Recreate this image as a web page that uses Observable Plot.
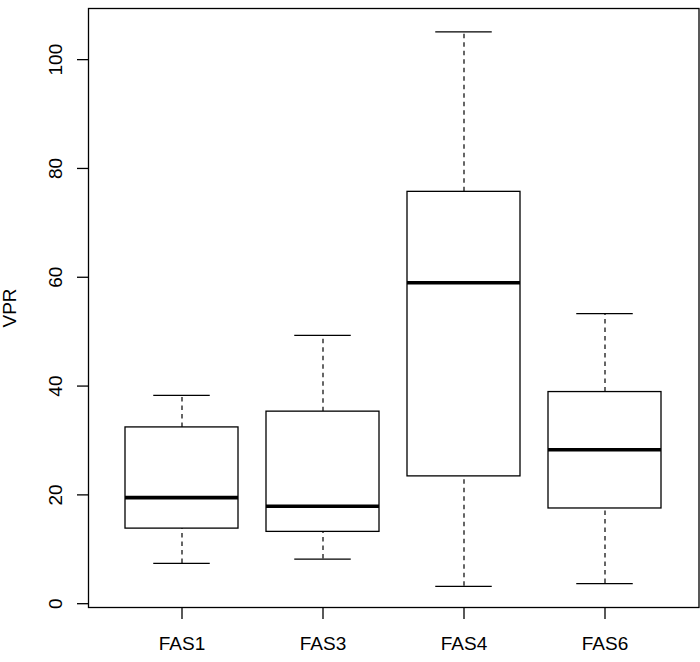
<!DOCTYPE html>
<html>
<head>
<meta charset="utf-8">
<script src="https://cdn.jsdelivr.net/npm/d3@7"></script>
<script src="https://cdn.jsdelivr.net/npm/@observablehq/plot@0.6"></script>
<style>
  html, body { margin: 0; padding: 0; background: #fff; }
</style>
</head>
<body>
<div id="chart"></div>
<script>
const categories = ["FAS1", "FAS3", "FAS4", "FAS6"];
const lowerWhisker = [7.4, 8.2, 3.2, 3.7];
const q1 = [13.8, 13.2, 23.4, 17.5];
const median = [19.5, 17.9, 59.0, 28.3];
const q3 = [32.4, 35.3, 75.7, 38.9];
const upperWhisker = [38.3, 49.3, 105.1, 53.3];
const yTicks = [0, 20, 40, 60, 80, 100];
const yLabel = "VPR";

const data = categories.map((c, i) => ({
  cat: c, lo: lowerWhisker[i], q1: q1[i], med: median[i], q3: q3[i], hi: upperWhisker[i]
}));

const font = "'Liberation Sans', Arial, Helvetica, sans-serif";
const capInset = 28.25;

const chart = Plot.plot({
  width: 700,
  height: 662,
  marginLeft: 88,
  marginRight: 1.5,
  marginTop: 8,
  marginBottom: 55,
  style: { fontFamily: font, fontSize: "19px", color: "#000", background: "#fff" },
  x: { type: "band", domain: categories, paddingInner: 0.2, paddingOuter: 0.26, label: null },
  y: { domain: [-0.7, 109.4], label: null },
  marks: [
    Plot.ruleX(data, { x: "cat", y1: "q3", y2: "hi", stroke: "#000", strokeWidth: 1.2, strokeDasharray: "4.5,4" }),
    Plot.ruleX(data, { x: "cat", y1: "lo", y2: "q1", stroke: "#000", strokeWidth: 1.2, strokeDasharray: "4.5,4" }),
    Plot.tickY(data, { x: "cat", y: "hi", stroke: "#000", strokeWidth: 1.3, insetLeft: capInset, insetRight: capInset }),
    Plot.tickY(data, { x: "cat", y: "lo", stroke: "#000", strokeWidth: 1.3, insetLeft: capInset, insetRight: capInset }),
    Plot.barY(data, { x: "cat", y1: "q1", y2: "q3", fill: "#fff", stroke: "#000", strokeWidth: 1.3 }),
    Plot.tickY(data, { x: "cat", y: "med", stroke: "#000", strokeWidth: 3.6 }),
    Plot.frame({ stroke: "#000", strokeWidth: 1.3 }),
    // y-axis tick marks
    Plot.axisY({ ticks: yTicks, tickSize: 11, text: null, stroke: "#000", strokeWidth: 1.3, label: null }),
    // y-axis tick labels (rotated, as in R)
    Plot.axisY({
      ticks: yTicks, tickSize: 0, tickPadding: 33, rotate: -90,
      textAnchor: "middle", lineAnchor: "middle", fontSize: 19, label: null
    }),
    // y-axis title
    Plot.text([yLabel], {
      frameAnchor: "left", dx: -79, rotate: -90, textAnchor: "middle", lineAnchor: "middle", fontSize: 19, fill: "#000"
    }),
    Plot.axisX({
      tickSize: 12, tickPadding: 17, fontSize: 19, stroke: "#000", strokeWidth: 1.3, label: null
    })
  ]
});
document.getElementById("chart").appendChild(chart);
</script>
</body>
</html>
